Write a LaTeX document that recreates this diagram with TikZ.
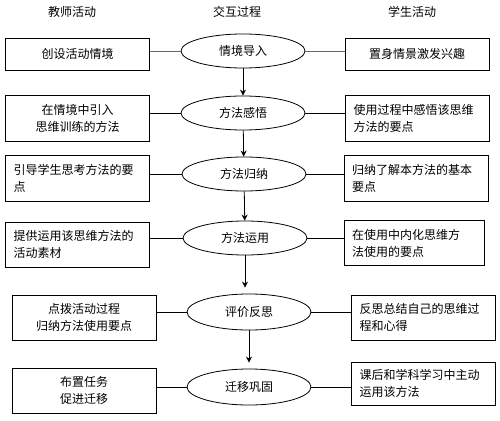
\documentclass[tikz,border=0pt]{standalone}
\usepackage{fontspec}
\newfontfamily\cjk{Noto Sans CJK SC}
\usepackage{tikz}
\usetikzlibrary{shapes, positioning, arrows.meta}

\tikzset{
	txt/.style={font=\cjk\fontsize{12}{17}\selectfont},
	box/.style={txt, draw, line width=0.8pt, minimum width=144pt, minimum height=45pt, inner sep=0pt, text width=128pt},
	lbox/.style={box, align=left},
	cbox/.style={box, align=center},
	stage/.style={txt, draw, ellipse, line width=0.8pt, minimum width=124pt, minimum height=34pt, inner sep=0pt},
	link/.style={line width=0.8pt},
	arr/.style={line width=0.8pt, -{Stealth[length=6pt,width=6pt]}}
}

\begin{document}
\begin{tikzpicture}[x=1pt, y=-1pt]
			\fill[white] (0,0) rectangle (500,420);
			\useasboundingbox (0,0) rectangle (500,420);
			
			\node[txt] (hL) at (72,12) {教师活动};
			\node[txt] (hM) at (237,12) {交互过程};
			\node[txt] (hR) at (412,12) {学生活动};
			
			\node[stage] (M1) at (243,51) {情境导入};
			\node[stage] (M2) at (243,113) {方法感悟};
			\node[stage] (M3) at (244,174) {方法归纳};
			\node[stage] (M4) at (245,238) {方法运用};
			\node[stage, minimum height=36pt] (M5) at (249,312) {评价反思};
			\node[stage, minimum height=36pt] (M6) at (249,387) {迁移巩固};
			
			\node[cbox, minimum height=32pt] (L1) at (77.5,54) {创设活动情境};
			\node[cbox, minimum height=46pt] (L2) at (77.5,118) {在情境中引入\\思维训练的方法};
			\node[lbox, minimum height=46pt] (L3) at (77.5,178) {引导学生思考方法的要\\点};
			\node[lbox] (L4) at (77.5,244.5) {提供运用该思维方法的\\活动素材};
			\node[cbox] (L5) at (84,317.5) {点拨活动过程\\归纳方法使用要点};
			\node[cbox] (L6) at (84,390.5) {布置任务\\促进迁移};
			
			\node[cbox, minimum height=32pt] (R1) at (417,54) {置身情景激发兴趣};
			\node[lbox, minimum height=46pt] (R2) at (417.5,118) {使用过程中感悟该思维\\方法的要点};
			\node[lbox, minimum height=46pt] (R3) at (416,178) {归纳了解本方法的基本\\要点};
			\node[lbox, minimum width=140pt, text width=124pt] (R4) at (414,243) {在使用中内化思维方\\法使用的要点};
			\node[lbox] (R5) at (423.5,317.5) {反思总结自己的思维过\\程和心得};
			\node[lbox, minimum height=43pt] (R6) at (423.5,383.5) {课后和学科学习中主动\\运用该方法};
			
			% box to stage
			\draw[line width=0.4pt, black!60] (M1.west) -- (M1.west -| L1.east);
			\draw[line width=0.4pt, black!60] (M1.east) -- (M1.east -| R1.west);
			\draw[link] (M2.west) -- (M2.west -| L2.east);
			\draw[link] (M2.east) -- (M2.east -| R2.west);
			\draw[link] (M3.west) -- (M3.west -| L3.east);
			\draw[link] (M3.east) -- (M3.east -| R3.west);
			\draw[link] (M4.west) -- (M4.west -| L4.east);
			\draw[link] (M4.east) -- (M4.east -| R4.west);
			\draw[link] (M5.west) -- (M5.west -| L5.east);
			\draw[link] (M5.east) -- (M5.east -| R5.west);
			\draw[link] (M6.west) -- (M6.west -| L6.east);
			\draw[link] (M6.east) -- (M6.east -| R6.west);
			
			% stage to stage
			\draw[arr] (M1) -- (M2);
			\draw[arr] (M2) -- (M3);
			\draw[arr] (M3) -- (M4);
			\draw[arr, shorten >=6pt] (M4.south) -- (M4.south |- M5.north);
			\draw[arr, shorten >=6pt] (M5) -- (M6);
		\end{tikzpicture}
\end{document}
